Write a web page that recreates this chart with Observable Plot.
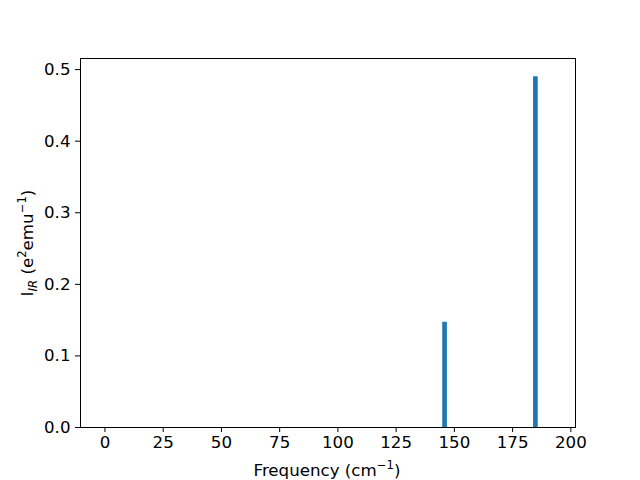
<!DOCTYPE html>
<html><head><meta charset="utf-8">
<script src="https://cdn.jsdelivr.net/npm/d3@7"></script>
<script src="https://cdn.jsdelivr.net/npm/@observablehq/plot@0.6"></script>
<style>body{margin:0;background:#fff} svg{display:block}</style>
</head><body><div id="chart"></div>
<script>
const frequencies = [0, 146, 185];
const intensities = [0, 0.147, 0.49];
const barWidth = 2;
const xTicks = [0, 25, 50, 75, 100, 125, 150, 175, 200];
const yTicks = [0, 0.1, 0.2, 0.3, 0.4, 0.5];

const data = frequencies.map((f, i) => ({f, v: intensities[i]}));
const FS = "16.67px", SS = "11.7px";

const plot = Plot.plot({
  width: 640, height: 480,
  marginLeft: 80, marginRight: 65, marginTop: 58, marginBottom: 53,
  style: {fontFamily: "DejaVu Sans", fontSize: FS, color: "black", background: "white"},
  x: {domain: [-10.5, 202], ticks: xTicks, tickSize: 5, tickPadding: 4, label: null},
  y: {domain: [0, 0.5155], ticks: yTicks, tickFormat: d3.format(".1f"), tickSize: 5, tickPadding: 5, label: null},
  marks: [
    Plot.rectY(data, {x1: d => d.f - barWidth/2, x2: d => d.f + barWidth/2, y: "v", fill: "#1f77b4"}),
    Plot.frame({stroke: "black", strokeWidth: 1})
  ]
});
const svg = d3.select(plot);
svg.selectAll("g[aria-label$='tick label']").style("font-size", FS);
svg.selectAll("g[aria-label$='tick label'] text").attr("fill", "black").style("font-size", FS);
svg.selectAll("g[aria-label$='tick'] path, g[aria-label$='tick']").attr("stroke", "black");
const xl = svg.append("text").attr("x", 327).attr("y", 476).attr("text-anchor", "middle")
  .attr("font-family", "DejaVu Sans").style("font-size", FS).attr("fill", "black");
xl.append("tspan").text("Frequency (cm");
xl.append("tspan").style("font-size", SS).attr("dy", -7).text("−1");
xl.append("tspan").attr("dy", 7).text(")");
const yl = svg.append("text").attr("transform", "translate(33,243) rotate(-90)").attr("text-anchor", "middle")
  .attr("font-family", "DejaVu Sans").style("font-size", FS).attr("fill", "black");
yl.append("tspan").text("I");
yl.append("tspan").attr("font-style", "italic").style("font-size", SS).attr("dy", 3.5).text("IR");
yl.append("tspan").attr("dy", -3.5).text(" (e");
yl.append("tspan").style("font-size", SS).attr("dy", -7).text("2");
yl.append("tspan").attr("dy", 7).text("emu");
yl.append("tspan").style("font-size", SS).attr("dy", -7).text("−1");
yl.append("tspan").attr("dy", 7).text(")");
document.getElementById("chart").appendChild(plot);
</script></body></html>
